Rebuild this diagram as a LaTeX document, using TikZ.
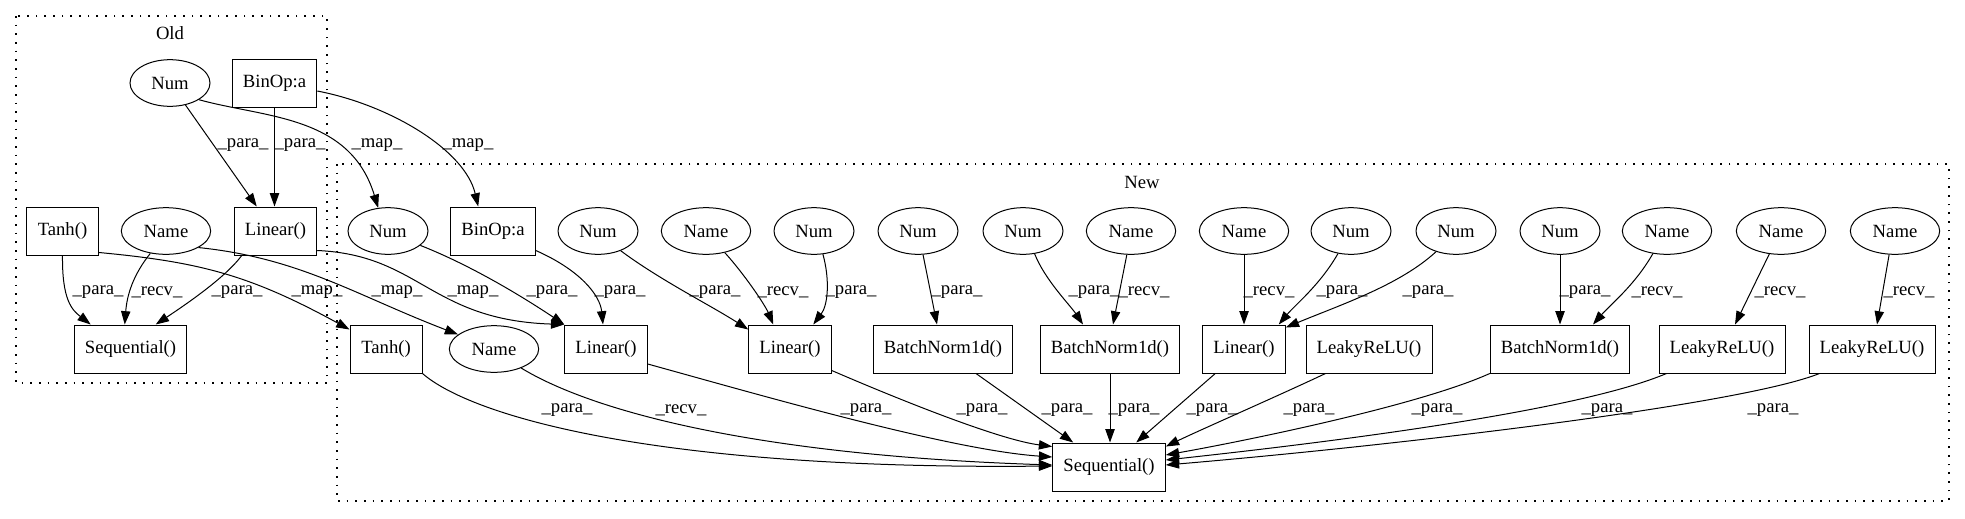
\documentclass[tikz,border=0pt]{standalone}
\usepackage{fontspec}
\setmainfont{Liberation Serif}
\newfontfamily\gvserif{Liberation Serif}
\usetikzlibrary{shapes.geometric,arrows.meta,calc}
\newcommand\gvfont{\gvserif\fontsize{14}{16}\selectfont}
\begin{document}
\begin{tikzpicture}[x=0.75pt,y=-0.75pt,
  box/.style={draw, rectangle, line width=0.75pt, minimum height=36pt, minimum width=54pt, inner xsep=8pt, inner ysep=0pt, font=\gvfont},
  ell/.style={draw, ellipse, line width=0.75pt, minimum height=35pt, inner sep=0pt, font=\gvfont},
  numell/.style={ell, minimum width=60pt},
  nameell/.style={ell, minimum width=67pt},
  lbl/.style={font=\gvfont, inner sep=0pt},
  edge/.style={draw, line width=0.75pt, -{Triangle[length=10pt,width=7pt]}},
  clus/.style={draw, line width=1pt, dash pattern=on 1.3pt off 5.2pt}]
\useasboundingbox (0,0) rectangle (1965,518);
% clusters
\draw[clus] (16,16) rectangle (327,383);
\draw[clus] (337,164) rectangle (1949,501);
\node[lbl] (oldlbl) at (170,33) {Old};
\node[lbl] (newlbl) at (1142,182) {New};
% Old nodes
\node[numell] (numo) at (170,83) {Num};
\node[box] (binopo) at (274.5,83) {BinOp:a};
\node[box] (tanho) at (62.5,231) {Tanh()};
\node[nameell] (nameo) at (166,231) {Name};
\node[box] (lino) at (275.5,231) {Linear()};
\node[box] (seqo) at (130.5,349) {Sequential()};
% New row 1
\node[numell] (numn1) at (388,231) {Num};
\node[box] (binopn) at (493,231) {BinOp:a};
\node[numell] (numa) at (598,231) {Num};
\node[nameell] (namea) at (706,231) {Name};
\node[numell] (numb) at (814,231) {Num};
\node[numell] (numc) at (918,231) {Num};
\node[numell] (numd) at (1023,231) {Num};
\node[nameell] (nameb) at (1131,231) {Name};
\node[nameell] (namec) at (1244,231) {Name};
\node[numell] (nume) at (1351,231) {Num};
\node[numell] (numf) at (1456,231) {Num};
\node[numell] (numg) at (1560,231) {Num};
\node[nameell] (named) at (1667,231) {Name};
\node[nameell] (namee) at (1781,231) {Name};
\node[nameell] (namef) at (1895,231) {Name};
% New row 2
\node[box] (tanhn) at (386,349) {Tanh()};
\node[nameell] (namen) at (494,349) {Name};
\node[box] (linn1) at (606,349) {Linear()};
\node[box] (linn2) at (790,349) {Linear()};
\node[box] (bn1) at (943,349) {BatchNorm1d()};
\node[box] (bn2) at (1110,349) {BatchNorm1d()};
\node[box] (linn3) at (1244,349) {Linear()};
\node[box] (leaky1) at (1369,349) {LeakyReLU()};
\node[box] (bn3) at (1560,349) {BatchNorm1d()};
\node[box] (leaky2) at (1722,349) {LeakyReLU()};
\node[box] (leaky3) at (1872,349) {LeakyReLU()};
\node[box] (seqn) at (1109,467) {Sequential()};
% Old edges
\draw[edge] (numo) -- ($(lino.north west)+(23,0)$);
\draw[edge] (binopo.south) -- (binopo.south |- lino.north);
\draw[edge] (numo.-30) .. controls (265,118) and (350,115) .. (numn1.113);
\draw[edge] ($(binopo.east)+(0,8)$) .. controls (390,105) and (465,150) .. ($(binopn.north west)+(28,0)$);
\draw[edge] (tanho.south) .. controls (62,300) and (72,310) .. ($(seqo.north west)+(17,0)$);
\draw[edge] (nameo.-125) .. controls (133,275) and (127,295) .. ($(seqo.north west)+(51,0)$);
\draw[edge] ($(lino.south west)+(8,0)$) .. controls (225,278) and (185,305) .. ($(seqo.north west)+(82,0)$);
\draw[edge] ($(tanho.south east)+(0,-3)$) .. controls (200,262) and (250,275) .. ($(tanhn.north west)+(0,5)$);
\draw[edge] (nameo.-27) .. controls (300,258) and (355,295) .. (namen.158);
\draw[edge] ($(lino.south east)+(0,-5)$) .. controls (420,255) and (430,320) .. (linn1.north west);
% New row1 -> row2
\draw[edge] (numn1.-24) .. controls (470,265) and (520,295) .. (linn1.north west);
\draw[edge] ($(binopn.south east)+(0,-5)$) .. controls (580,270) and (600,295) .. ($(linn1.north)+(-3,0)$);
\draw[edge] (numa.-41) .. controls (660,280) and (710,305) .. ($(linn2.north west)+(0,5)$);
\draw[edge] (namea.-49) .. controls (745,275) and (765,305) .. ($(linn2.north west)+(25,0)$);
\draw[edge] (numb.-69) .. controls (830,280) and (828,305) .. ($(linn2.north west)+(65,0)$);
\draw[edge] (numc.-78) -- ($(bn1.north)+(-6,0)$);
\draw[edge] (numd.-63) .. controls (1045,280) and (1070,305) .. ($(bn2.north)+(-27,0)$);
\draw[edge] (nameb.-100) -- ($(bn2.north)+(3,0)$);
\draw[edge] (namec) -- (linn3);
\draw[edge] (nume.-120) .. controls (1320,285) and (1295,305) .. ($(linn3.north east)+(-7,0)$);
\draw[edge] (numf.-134) .. controls (1400,285) and (1340,305) .. ($(linn3.north east)+(0,3)$);
\draw[edge] (numg) -- (bn3);
\draw[edge] (named.-122) .. controls (1635,285) and (1610,305) .. ($(bn3.north)+(33,0)$);
\draw[edge] (namee.-117) -- ($(leaky2.north)+(13,0)$);
\draw[edge] (namef.-104) -- ($(leaky3.north)+(5,0)$);
% row2 -> Sequential
\draw[edge] (tanhn.south east) .. controls (470,415) and (650,470) .. ($(seqn.west)+(0,-1)$);
\draw[edge] (namen.-35) .. controls (590,410) and (750,455) .. ($(seqn.west)+(0,-2)$);
\draw[edge] ($(linn1.east)+(0,15)$) .. controls (760,395) and (950,450) .. ($(seqn.west)+(0,-10)$);
\draw[edge] ($(linn2.south east)+(0,-3)$) .. controls (900,400) and (1000,440) .. ($(seqn.north west)+(0,4)$);
\draw[edge] ($(bn1.south)+(33,0)$) -- ($(seqn.north west)+(21,0)$);
\draw[edge] (bn2.south) -- (bn2.south |- seqn.north);
\draw[edge] ($(linn3.south west)+(13,0)$) -- ($(seqn.north west)+(84,0)$);
\draw[edge] ($(leaky1.south west)+(20,0)$) .. controls (1280,395) and (1200,430) .. ($(seqn.north east)+(0,4)$);
\draw[edge] (bn3.south west) .. controls (1420,405) and (1250,440) .. ($(seqn.east)+(0,-12)$);
\draw[edge] ($(leaky2.south west)+(8,0)$) .. controls (1580,410) and (1350,440) .. ($(seqn.east)+(0,-7)$);
\draw[edge] ($(leaky3.south west)+(11,0)$) .. controls (1740,405) and (1400,445) .. ($(seqn.east)+(0,-2)$);
% edge labels
\node[lbl] (l1) at (243,145) {\_para\_};
\node[lbl] (l2) at (300,145) {\_para\_};
\node[lbl] (l3) at (377,145) {\_map\_};
\node[lbl] (l4) at (468,145) {\_map\_};
\node[lbl] (l5) at (98,292) {\_para\_};
\node[lbl] (l6) at (157,292) {\_recv\_};
\node[lbl] (l7) at (237,292) {\_para\_};
\node[lbl] (l8) at (317,292) {\_map\_};
\node[lbl] (l9) at (397,292) {\_map\_};
\node[lbl] (l10) at (473,292) {\_map\_};
\node[lbl] (l11) at (552,292) {\_para\_};
\node[lbl] (l12) at (620,292) {\_para\_};
\node[lbl] (l13) at (715,292) {\_para\_};
\node[lbl] (l14) at (783,292) {\_recv\_};
\node[lbl] (l15) at (851,292) {\_para\_};
\node[lbl] (l16) at (957,292) {\_para\_};
\node[lbl] (l17) at (1094,292) {\_para\_};
\node[lbl] (l18) at (1144,292) {\_recv\_};
\node[lbl] (l19) at (1269,292) {\_recv\_};
\node[lbl] (l20) at (1342,292) {\_para\_};
\node[lbl] (l21) at (1428,292) {\_para\_};
\node[lbl] (l22) at (1585,292) {\_para\_};
\node[lbl] (l23) at (1657,292) {\_recv\_};
\node[lbl] (l24) at (1780,292) {\_recv\_};
\node[lbl] (l25) at (1909,292) {\_recv\_};
\node[lbl] (l26) at (567,410) {\_para\_};
\node[lbl] (l27) at (681,410) {\_recv\_};
\node[lbl] (l28) at (866,410) {\_para\_};
\node[lbl] (l29) at (982,410) {\_para\_};
\node[lbl] (l30) at (1067,410) {\_para\_};
\node[lbl] (l31) at (1134,410) {\_para\_};
\node[lbl] (l32) at (1212,410) {\_para\_};
\node[lbl] (l33) at (1309,410) {\_para\_};
\node[lbl] (l34) at (1437,410) {\_para\_};
\node[lbl] (l35) at (1607,410) {\_para\_};
\node[lbl] (l36) at (1773,410) {\_para\_};
\end{tikzpicture}
\end{document}
